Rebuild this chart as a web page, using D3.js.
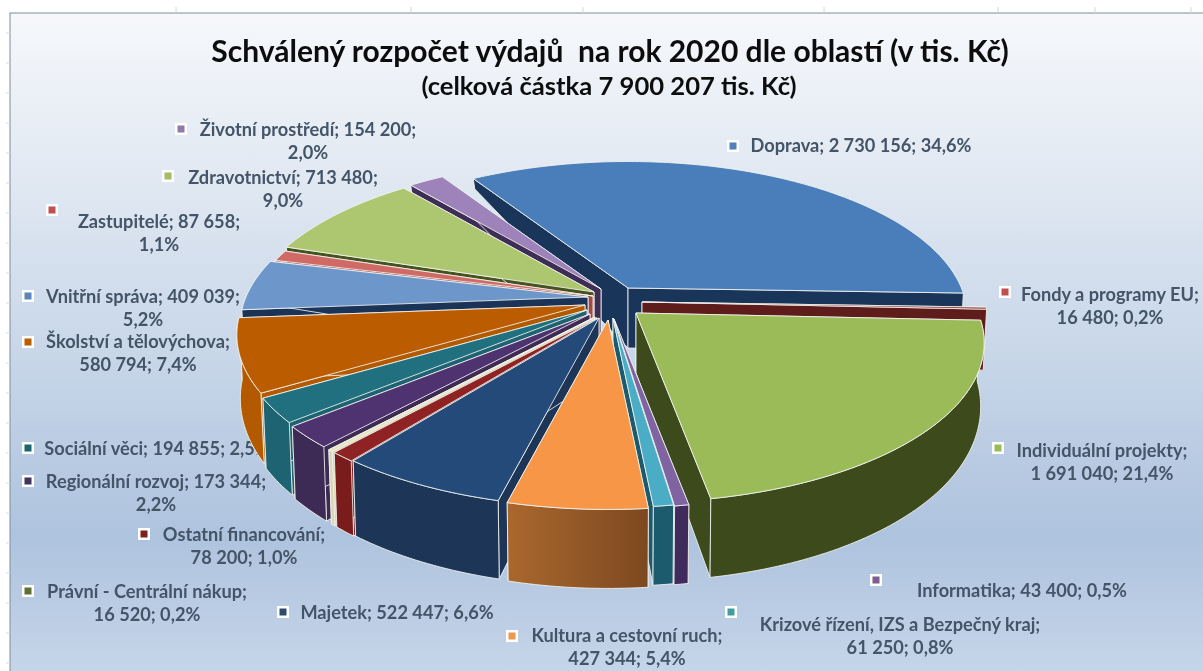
<!DOCTYPE html>
<html><head><meta charset="utf-8">
<script src="https://cdn.jsdelivr.net/npm/d3@7/dist/d3.min.js"></script>
<style>html,body{margin:0;padding:0;background:#fff;overflow:hidden}svg{display:block}text{font-family:Lato,"Open Sans",sans-serif}</style>
</head><body><svg id="c" width="1203" height="671"></svg>
<script>
// DATA
const categories = ["Doprava","Fondy a programy EU","Individuální projekty","Informatika","Krizové řízení, IZS a Bezpečný kraj","Kultura a cestovní ruch","Majetek","Ostatní financování","Právní - Centrální nákup","Regionální rozvoj","Sociální věci","Školství a tělovýchova","Vnitřní správa","Zastupitelé","Zdravotnictví","Životní prostředí"];
const values = [2730156,16480,1691040,43400,61250,427344,522447,78200,16520,173344,194855,580794,409039,87658,713480,154200];
const titleLines = ["Schválený rozpočet výdajů  na rok 2020 dle oblastí (v tis. Kč)","(celková částka 7 900 207 tis. Kč)"];
// STYLE
const topColors = ["#4a7ebb","#8c3431","#9bbb59","#8064a2","#4bacc6","#f79646","#234a78","#8f2222","#e6e4c4","#4f3270","#21707f","#bb5c00","#6d96cb","#cf6a66","#adc770","#9d83b9"];
const sideColors = ["#19355a","#5e1c1a","#3c4a1c","#3f2c5c","#1c5a6e","url(#kult)","#1d3658","#7a1c1c","#d8d6b4","#3d2a55","#1d6372","#b35900","#1b3357","#a04a48","#47531f","#3e2d55"];
const markerColors = ["#4f81bd","#c0504d","#9bbb59","#7d5f8f","#3f9d9d","#eb9a4b","#2f4b6b","#7a2020","#5f7030","#42305e","#1f6470","#bb5c00","#5c86b8","#c0504d","#a4bd62","#8f7ba5"];
// LAYOUT
const cx=598, cy=300, R=342, H=154, K=0.187;
const startDeg=-32.5;
const explodeX=[30,44,38,16,15,10,1,-1,-3,-8,-11,-13,-10,-5,-4,3];
const explodeY=[-12,2,13,19,18,20,18,18,17,14,10,5,-3,-4,-8,-11];
const radiusScale=[0.975,1,1,1,1,1,1,1,1,1,1,1,1,1,1,1];
const labelCX=[861,1110,1102,1022,900,627,397,244,147,156,157,138,143,159,283,308];
const labelY=[146,295,451,591,625,636,613,535,592,482,449,342,297,222,178,130];
const labelBreak=[0,1,1,0,1,1,0,1,1,2,0,1,2,2,2,2]; // 0 none, 1 after the name, 2 after the value
const markX=[733,1005,998,876,731,512,283,144,28,28,28,28,28,52,168,181];
const markY=[146,292,448,580,612,636,612,534,591,481,448,342,296,210,176,129];
const W=1203,Ht=671;

const svg=d3.select("#c"), defs=svg.append("defs");
const bg=defs.append("linearGradient").attr("id","bg").attr("x1",0).attr("x2",0).attr("y1",0).attr("y2",1);
[[0,"#f6f8fb"],[.22,"#e3eaf3"],[.5,"#c9d7e9"],[.78,"#aec3de"],[1,"#c8d7ea"]].forEach(s=>bg.append("stop").attr("offset",s[0]).attr("stop-color",s[1]));
const kg=defs.append("linearGradient").attr("id","kult").attr("gradientUnits","userSpaceOnUse").attr("x1",505).attr("x2",650).attr("y1",0).attr("y2",0);
[[0,"#ab682e"],[1,"#7c4820"]].forEach(s=>kg.append("stop").attr("offset",s[0]).attr("stop-color",s[1]));
defs.append("filter").attr("id","soft").append("feGaussianBlur").attr("stdDeviation",0.35);

// page furniture
svg.append("rect").attr("width",W).attr("height",Ht).attr("fill","#fff");
svg.append("rect").attr("x",10).attr("y",13).attr("width",W).attr("height",Ht).attr("fill","url(#bg)").attr("stroke","#7f8c99").attr("stroke-width",1);
svg.append("g").selectAll("line").data([176,411,583,824,998,1095,1191]).join("line")
  .attr("x1",d=>d).attr("x2",d=>d).attr("y1",7).attr("y2",13).attr("stroke","#cfd8e3");
svg.append("g").selectAll("line").data(d3.range(33,671,30)).join("line")
  .attr("x1",6).attr("x2",10).attr("y1",d=>d).attr("y2",d=>d).attr("stroke","#d5dce5");

// labels go under the pie (the pie hides part of one of them)
const fmt=d3.formatLocale({decimal:",",thousands:" ",grouping:[3],currency:["",""]});
const fv=fmt.format(",d"), fp=fmt.format(".1f"), total=d3.sum(values);
const linesOf=i=>{const n=categories[i],v=fv(values[i]),p=fp(values[i]/total*100)+"%";
  return labelBreak[i]===0?[`${n}; ${v}; ${p}`]:labelBreak[i]===1?[`${n};`,`${v}; ${p}`]:[`${n}; ${v};`,p];};
const lab=svg.append("g").attr("filter","url(#soft)");
categories.forEach((c,i)=>{
  linesOf(i).forEach((t,j)=>lab.append("text").attr("x",labelCX[i]).attr("y",labelY[i]+j*23).attr("dy","0.35em")
    .attr("text-anchor","middle").attr("font-size",18.2).attr("font-weight",700).attr("fill","#445468").text(t));
  lab.append("rect").attr("x",markX[i]-6).attr("y",markY[i]-6).attr("width",12).attr("height",12).attr("fill","#fff");
  lab.append("rect").attr("x",markX[i]-3.5).attr("y",markY[i]-3.5).attr("width",7).attr("height",7).attr("fill",markerColors[i]);
});
const tg=svg.append("g").attr("filter","url(#soft)");
tg.append("text").attr("x",610).attr("y",62).attr("text-anchor","middle").attr("font-size",30).attr("font-weight",700).attr("fill","#111").style("white-space","pre").text(titleLines[0]);
tg.append("text").attr("x",609).attr("y",95).attr("text-anchor","middle").attr("font-size",25.6).attr("font-weight",700).attr("fill","#111").text(titleLines[1]);

// 3D pie
const rad=Math.PI/180;
const pie=d3.pie().sort(null).startAngle(startDeg*rad).endAngle(startDeg*rad+2*Math.PI)(values);
const depth=d3.scaleLinear().domain([-1,-.85,-.3,0,.5,1]).range([6,10,40,60,70,79]);
const line=d3.line().curve(d3.curveLinear);
function proj(a,i,r,lower){
  const u=Math.sin(a)*r, v=-Math.cos(a)*r, w=1-K*v;
  const ax=cx+explodeX[i], ay=cy+explodeY[i];
  const x=R*radiusScale[i]*u/w, y=H*radiusScale[i]*v/w;
  return lower? [ax+x*0.99, ay+y+depth(v)] : [ax+x, ay+y];
}
const order=pie.map((d,i)=>({d,i,v:-Math.cos((d.startAngle+d.endAngle)/2)})).sort((a,b)=>a.v-b.v);
const g=svg.append("g").attr("stroke-linejoin","round");
order.forEach(({d,i,v})=>{
  const steps=Math.max(2,Math.ceil((d.endAngle-d.startAngle)/rad));
  const as=d3.range(steps+1).map(s=>d.startAngle+(d.endAngle-d.startAngle)*s/steps);
  const topArc=as.map(a=>proj(a,i,1,false)), lowArc=as.map(a=>proj(a,i,1,true));
  const at=proj(0,i,0,false), ab=proj(0,i,0,true);
  const edge={stroke:"#f2f5f0","stroke-width":1,"stroke-opacity":0.85};
  const face=(pts,fill)=>{const p=g.append("path").attr("d",line(pts)+"Z").attr("fill",fill);
    Object.entries(edge).forEach(([k,val])=>p.attr(k,val));return p;};
  face([at,topArc[0],lowArc[0],ab],sideColors[i]);
  face([at,topArc[steps],lowArc[steps],ab],sideColors[i]);
  if(v>=0.1) face(topArc.concat(lowArc.slice().reverse()),sideColors[i]);
  face([at].concat(topArc),topColors[i]);
});
</script></body></html>
